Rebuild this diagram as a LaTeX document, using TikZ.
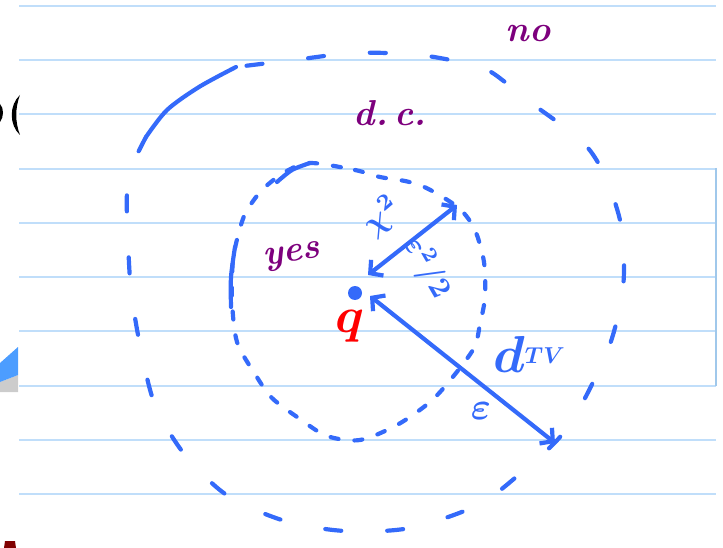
\documentclass[tikz,border=0pt]{standalone}
\usepackage{amsmath,amssymb,amsfonts}
\usepackage{tikz}
\usetikzlibrary{arrows.meta,positioning}
\definecolor{pen}{RGB}{52,106,250}
\definecolor{ink}{RGB}{125,0,125}
\definecolor{rule}{RGB}{192,222,250}
\definecolor{edge}{RGB}{160,200,235}

\begin{document}
\begin{tikzpicture}[x=1pt,y=-1pt,
    pen/.style={draw=pen,line width=4.2pt,line cap=round,line join=round},
    outerdash/.style={pen,dash pattern=on 16pt off 46pt},
    innerdash/.style={pen,dash pattern=on 8pt off 16pt},
    twohead/.style={{Straight Barb[length=9pt,width=20pt]}-{Straight Barb[length=9pt,width=20pt]}},
    hand/.style={scale=#1,font=\boldmath,inner sep=1pt},
    word/.style={text=ink,scale=#1,font=\bfseries\itshape},
    ]
    \useasboundingbox (0,0) rectangle (723,548);
    % ruled paper
    \foreach \y in {6,60,114,169,223,277,331,386,440,494}
        \draw[rule,line width=1.2pt] (19,\y) -- (716,\y);
    \draw[edge,line width=1.5pt] (716,168) -- (716,386);
    % bits of the slide behind
    \fill[black] (20,95) .. controls (9,105) and (9,125) .. (20,135)
        .. controls (15,122) and (15,108) .. (20,95);
    \fill[black] (0,104) .. controls (4,108) and (4,117) .. (0,122) -- cycle;
    \fill[gray!40] (0,382) -- (18,375) -- (18,392) -- (0,392) -- cycle;
    \fill[blue!55!cyan!70!white] (0,363) -- (18,347) -- (18,375) -- (0,382) -- cycle;
    \fill[red!50!black] (4,548) -- (5,541) -- (15,541) -- (16,548) -- cycle;

    % outer ring
    \draw[outerdash] plot[smooth] coordinates {
        (146,137) (134,162) (127,193) (128,240) (131,290) (140,345)
        (155,405) (185,455) (228,496) (285,521) (345,531) (410,528)
        (478,505) (522,472) (560,437) (584,400) (610,344) (622,296)
        (624,258) (620,220) (606,178) (588,148) (560,124) (527,100)
        (505,82) (480,67) (420,55) (355,53) (294,60) (236,67)};
    \draw[pen] plot[smooth] coordinates {(236,67) (199,87) (167,110) (146,137)};

    % inner ring
    \draw[innerdash] plot[smooth cycle] coordinates {
        (310,163) (355,170) (380,177) (405,181) (422,186) (441,196)
        (461,210) (475,230) (484,262) (485,297) (480,324) (474,348)
        (452,378) (430,402) (397,425) (360,440) (327,436) (300,419)
        (272,398) (255,374) (237,342) (232,300) (233,260) (239,232)
        (246,212) (262,190) (285,172)};
    \draw[pen] plot[smooth] coordinates {(277,182) (292,170) (310,163)};
    \draw[pen] plot[smooth] coordinates {(235,247) (231,277) (231,307)};

    % the point and the two distances
    \node[circle,fill=pen,inner sep=0pt,minimum size=14pt] (q) at (355,293) {};
    \node[text=red,hand=5] (qlabel) at (350,326) {$q$};
    \coordinate (qa) at (368,275);
    \coordinate (tipA) at (457,205);
    \coordinate (qb) at (370,296);
    \coordinate (tipB) at (555,443);
    \draw[pen,twohead] (qa) -- (tipA);
    \draw[pen,twohead] (qb) -- (tipB);

    \node[text=pen,hand=3.2,rotate=40] (chi) at (382,216) {$\chi^2$};
    \node[text=pen,hand=3,rotate=-60] (half) at (427,268) {$\varepsilon^2/2$};
    \node[text=pen,inner sep=0pt] (dtv) at (529,354)
        {\scalebox{5.2}{\boldmath$d$}\raisebox{9pt}{\scalebox{2.3}{\boldmath$TV$}}};
    \node[text=pen,hand=3.8] (eps) at (481,411) {$\varepsilon$};

    % handwritten words
    \node[word=3.6] (no) at (528,34) {no};
    \node[word=3.6,rotate=8] (yes) at (292,257) {yes};
    \node[word=3.6] (dc) at (393,113) {d.\,c.\,};
\end{tikzpicture}
\end{document}
